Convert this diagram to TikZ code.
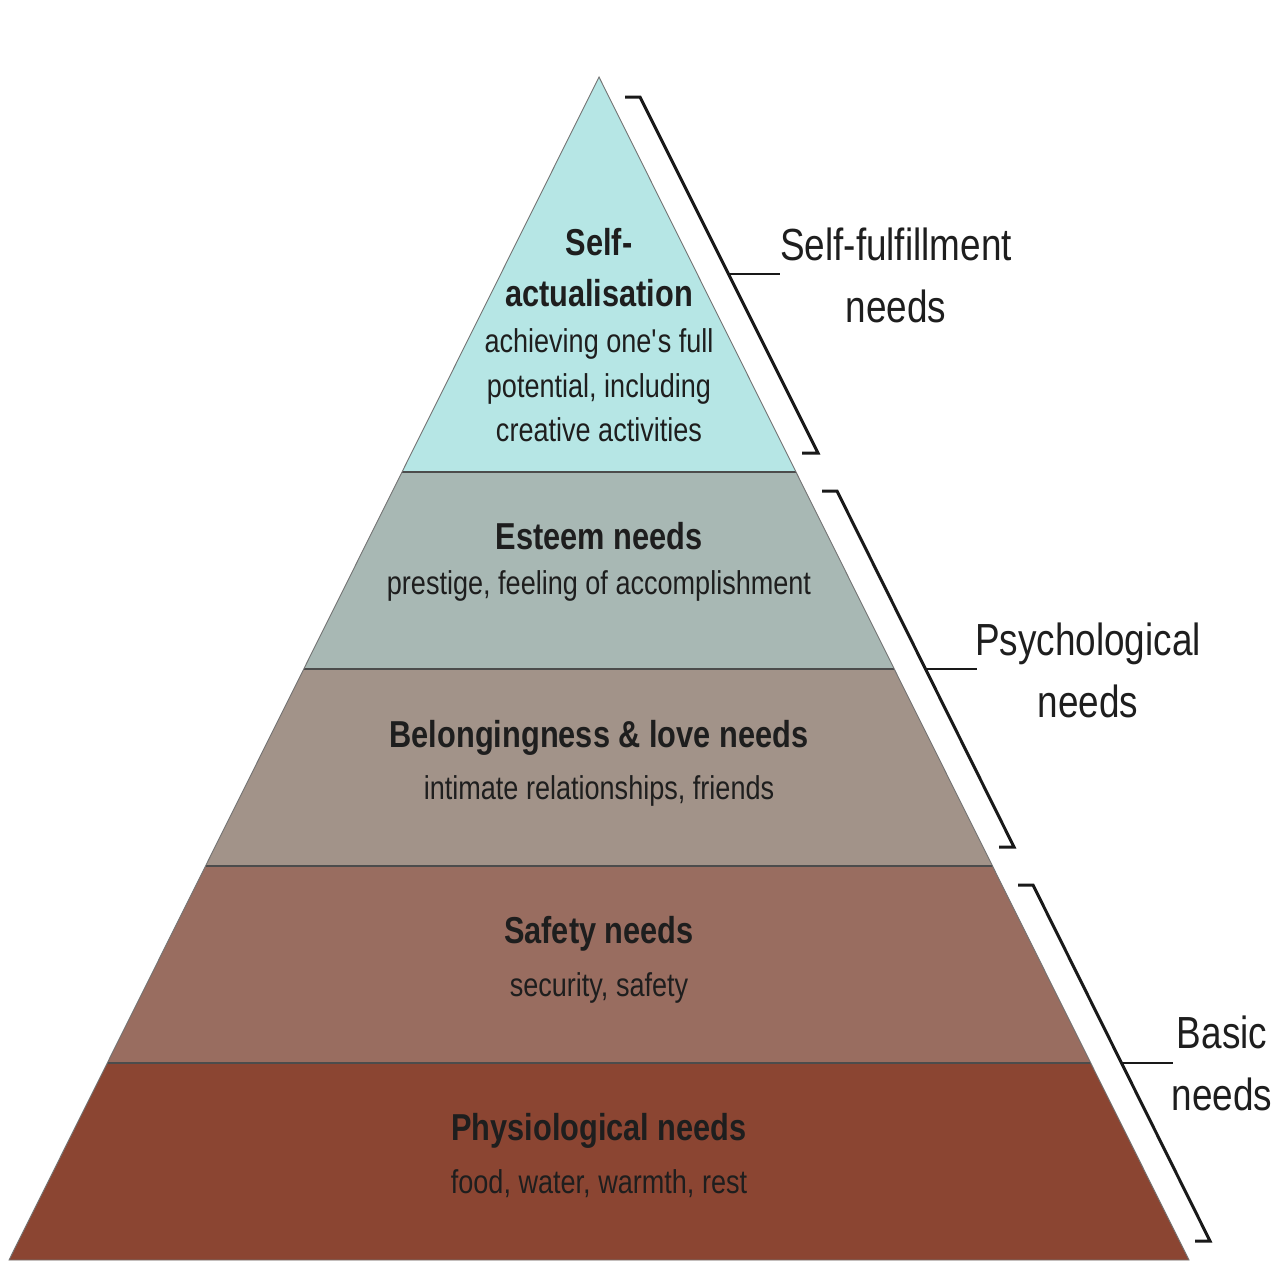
\documentclass[tikz,border=0pt]{standalone}
\usepackage{fontspec}
\setmainfont[FakeStretch=0.82]{Liberation Sans}
\newcommand{\straightq}{\XeTeXglyph\XeTeXcharglyph"27\relax}
\definecolor{lvA}{HTML}{B6E6E5}
\definecolor{lvB}{HTML}{A8B8B4}
\definecolor{lvC}{HTML}{A29389}
\definecolor{lvD}{HTML}{996D60}
\definecolor{lvE}{HTML}{8B4532}
\definecolor{txt}{HTML}{1E1E1E}
\begin{document}
\begin{tikzpicture}[x=1pt,y=-1pt,
  title/.style={anchor=base,inner sep=0pt,text=txt,font=\fontsize{37.5}{40}\selectfont\bfseries},
  sub/.style={anchor=base,inner sep=0pt,text=txt,font=\fontsize{33}{40}\selectfont},
  side/.style={anchor=base,inner sep=0pt,text=txt,font=\fontsize{45}{50}\selectfont},
  brk/.style={line width=3pt,black!90,line join=miter},
  tick/.style={line width=2.5pt,black!90},
  sep/.style={line width=1.3pt,black!70},
  outl/.style={line width=0.9pt,black!55}]
\useasboundingbox (0,0) rectangle (1280,1280);
% layers
\fill[lvA] (599,77) -- (796,472) -- (402,472) -- cycle;
\fill[lvB] (402,472) -- (796,472) -- (894.3,669) -- (303.7,669) -- cycle;
\fill[lvC] (303.7,669) -- (894.3,669) -- (992.5,866) -- (205.5,866) -- cycle;
\fill[lvD] (205.5,866) -- (992.5,866) -- (1090.7,1063) -- (107.3,1063) -- cycle;
\fill[lvE] (107.3,1063) -- (1090.7,1063) -- (1189,1260) -- (9,1260) -- cycle;
\draw[sep] (402,472) -- (796,472);
\draw[sep] (303.7,669) -- (894.3,669);
\draw[sep] (205.5,866) -- (992.5,866);
\draw[sep] (107.3,1063) -- (1090.7,1063);
\draw[outl] (599,77) -- (1189,1260) -- (9,1260) -- cycle;
% brackets
\draw[brk] (625,97) -- (640,97) -- (818,453) -- (802,453);
\draw[tick] (729,274) -- (780,274);
\draw[brk] (822,491) -- (837,491) -- (1014,847) -- (999,847);
\draw[tick] (926,669) -- (977,669);
\draw[brk] (1018,885) -- (1033,885) -- (1210,1241) -- (1195,1241);
\draw[tick] (1122,1063) -- (1173,1063);
% texts
\node[title] (t1a) at (599,255) {Self-};
\node[title] (t1b) at (599,306) {actualisation};
\node[sub] (s1a) at (599,352) {achieving one\straightq s full};
\node[sub] (s1b) at (599,397) {potential, including};
\node[sub] (s1c) at (599,441) {creative activities};
\node[title] (t2) at (599,549) {Esteem needs};
\node[sub] (s2) at (599,594) {prestige, feeling of accomplishment};
\node[title] (t3) at (599,747) {Belongingness \& love needs};
\node[sub] (s3) at (599,799) {intimate relationships, friends};
\node[title] (t4) at (599,943) {Safety needs};
\node[sub] (s4) at (599,996) {security, safety};
\node[title] (t5) at (599,1140) {Physiological needs};
\node[sub] (s5) at (599,1193) {food, water, warmth, rest};
\node[side] (r1a) at (896,260) {Self-fulfillment};
\node[side] (r1b) at (896,322) {needs};
\node[side] (r2a) at (1088,655) {Psychological};
\node[side] (r2b) at (1088,717) {needs};
\node[side] (r3a) at (1222,1048) {Basic};
\node[side] (r3b) at (1222,1110) {needs};
\end{tikzpicture}
\end{document}
